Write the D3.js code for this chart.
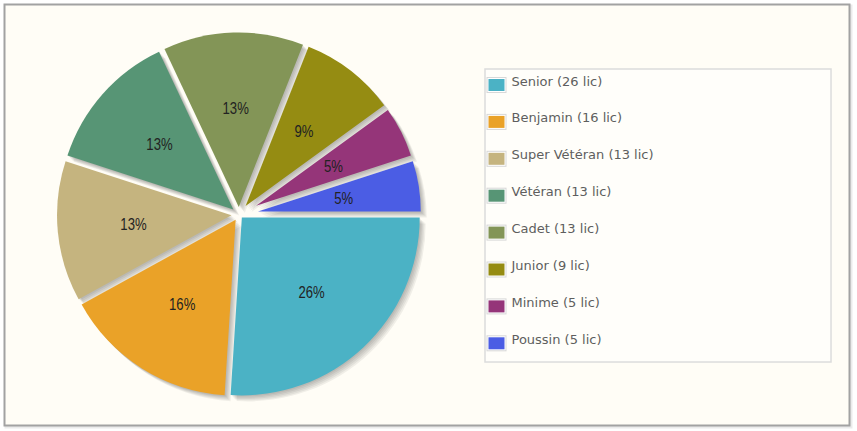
<!DOCTYPE html>
<html lang="fr">
<head>
  <meta charset="UTF-8">
  <title>Licenciés par catégorie</title>
  <style>
    body { margin: 0; background: #ffffff; }
    #chart { width: 857px; height: 431px; }
  </style>
</head>
<body>

<div id="chart"></div>

<script src="https://cdn.jsdelivr.net/npm/d3@7/dist/d3.min.js"></script>
<script>
  const CATEGORIES = ['Senior', 'Benjamin', 'Super Vétéran', 'Vétéran', 'Cadet', 'Junior', 'Minime', 'Poussin'];
  const VALUES = [26, 16, 13, 13, 13, 9, 5, 5];
  const COLORS = ['#4bb2c5', '#eaa228', '#c5b47f', '#579575', '#839557', '#958c12', '#953579', '#4b5de4'];

  const width = 857, height = 431;
  const center = {x: 239, y: 214.5};
  const radius = 182;
  const gap = 6;          // width of the space between slices
  const labelRadius = 106;

  const svg = d3.select('#chart')
    .append('svg')
    .attr('width', width)
    .attr('height', height);

  // frame
  svg.append('rect')
    .attr('x', 6).attr('y', 6)
    .attr('width', 845).attr('height', 421)
    .attr('fill', 'none')
    .attr('stroke', '#000').attr('stroke-opacity', 0.08)
    .attr('stroke-width', 3);
  svg.append('rect')
    .attr('x', 4.5).attr('y', 4.5)
    .attr('width', 845).attr('height', 421)
    .attr('fill', '#fffdf6')
    .attr('stroke', '#a2a2a2')
    .attr('stroke-width', 2);

  const total = d3.sum(VALUES);
  const color = d3.scaleOrdinal().domain(CATEGORIES).range(COLORS);

  // slices start at 3 o'clock and go clockwise
  const pie = d3.pie()
    .sort(null)
    .value(function (d) { return d.value; })
    .startAngle(Math.PI / 2)
    .endAngle(Math.PI / 2 + 2 * Math.PI);

  const arcs = pie(CATEGORIES.map(function (c, i) {
    return {name: c, value: VALUES[i]};
  }));

  // each slice is pushed out along its bisector so the gaps stay parallel
  arcs.forEach(function (a) {
    const half = (a.endAngle - a.startAngle) / 2;
    a.mid = (a.startAngle + a.endAngle) / 2;
    a.off = Math.min(gap / (2 * Math.sin(half)), 40);
  });

  const sliceArc = function (a) {
    return d3.arc()
      .innerRadius(0)
      .outerRadius(radius - a.off)(a);
  };
  const shift = function (a) {
    return 'translate(' + (center.x + Math.sin(a.mid) * a.off) + ',' + (center.y - Math.cos(a.mid) * a.off) + ')';
  };

  // shadows
  const shadows = svg.append('g');
  d3.range(1, 6).forEach(function (j) {
    shadows.append('g')
      .attr('transform', 'translate(' + (j * 1.2) + ',' + (j * 1.2) + ')')
      .selectAll('path')
      .data(arcs)
      .enter()
      .append('path')
      .attr('transform', shift)
      .attr('d', sliceArc)
      .attr('fill', '#000')
      .attr('fill-opacity', 0.06);
  });

  // slices
  svg.append('g')
    .selectAll('path')
    .data(arcs)
    .enter()
    .append('path')
    .attr('transform', shift)
    .attr('d', sliceArc)
    .attr('fill', function (d) { return color(d.data.name); });

  // percentage labels
  svg.append('g')
    .selectAll('text')
    .data(arcs)
    .enter()
    .append('text')
    .attr('transform', function (d) {
      const x = center.x + Math.sin(d.mid) * labelRadius;
      const y = center.y - Math.cos(d.mid) * labelRadius;
      return 'translate(' + x + ',' + y + ') scale(0.82,1)';
    })
    .attr('text-anchor', 'middle')
    .attr('dy', '0.36em')
    .style('font-family', '"Liberation Sans", Arial, sans-serif')
    .style('font-size', '16px')
    .attr('fill', '#222')
    .text(function (d) { return Math.round(d.data.value / total * 100) + '%'; });

  // legend
  const legendBox = {x: 485, y: 69, w: 346, h: 293};
  svg.append('rect')
    .attr('x', legendBox.x).attr('y', legendBox.y)
    .attr('width', legendBox.w).attr('height', legendBox.h)
    .attr('fill', '#fffefa')
    .attr('stroke', '#dcdcdc')
    .attr('stroke-width', 1.5);

  const row = d3.scalePoint()
    .domain(CATEGORIES)
    .range([87, 345.3]);

  const items = svg.append('g')
    .selectAll('g')
    .data(CATEGORIES)
    .enter()
    .append('g')
    .attr('transform', function (d) { return 'translate(0,' + row(d) + ')'; });

  items.append('rect')
    .attr('x', 487).attr('y', -9.5)
    .attr('width', 19).attr('height', 15)
    .attr('fill', '#fff')
    .attr('stroke', '#d8d8d8')
    .attr('stroke-width', 1);
  items.append('rect')
    .attr('x', 488.5).attr('y', -8)
    .attr('width', 16).attr('height', 12)
    .attr('fill', function (d) { return color(d); });

  items.append('text')
    .attr('x', 511.5)
    .attr('y', -1.5)
    .style('font-family', '"DejaVu Sans", sans-serif')
    .style('font-size', '13px')
    .attr('fill', '#5e5e5e')
    .text(function (d, i) { return d + ' (' + VALUES[i] + ' lic)'; });
</script>
</body>
</html>
